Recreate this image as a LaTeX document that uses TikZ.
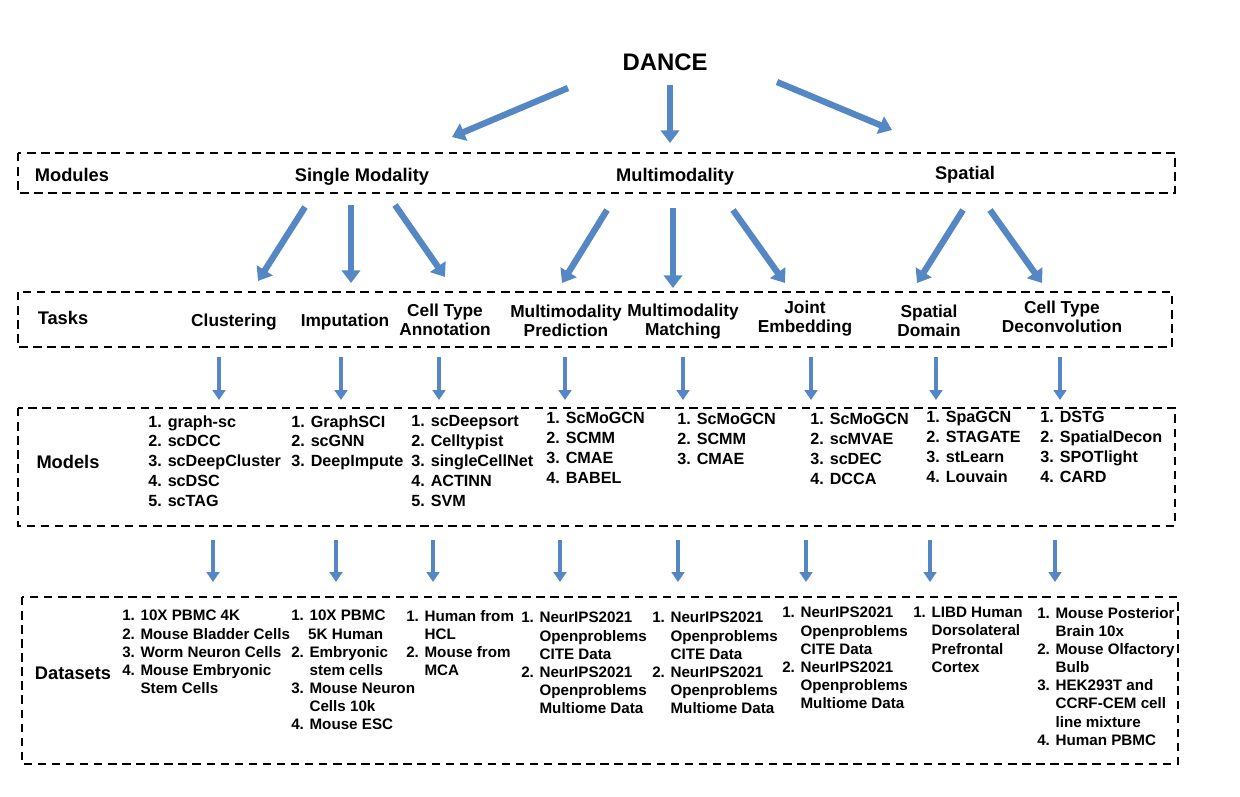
\documentclass[tikz,border=0pt]{standalone}
\usepackage{fontspec}
\setmainfont{Liberation Sans}
\usetikzlibrary{positioning, arrows.meta}
\definecolor{arrblue}{RGB}{84,135,195}
\tikzset{
  frame/.style={draw, dashed, line width=1.2pt, dash pattern=on 6pt off 4pt},
  head/.style={font=\bfseries\fontsize{13}{15}\selectfont, align=center},
  task/.style={font=\bfseries\fontsize{12.3}{13.5}\selectfont, align=center},
  mlist/.style={font=\bfseries\fontsize{11.5}{14.2}\selectfont, align=left, anchor=north west, inner sep=0},
  dlist/.style={font=\bfseries\fontsize{10.8}{12.9}\selectfont, align=left, anchor=north west, inner sep=0},
  fat/.style={-{Triangle[width=13pt,length=9pt]}, line width=4.5pt, draw=arrblue},
  thin/.style={-{Triangle[width=9pt,length=7pt]}, line width=3pt, draw=arrblue}
}
\begin{document}
\begin{tikzpicture}[x=0.025cm,y=-0.025cm]
\useasboundingbox (0,0) rectangle (1240,796);

% boxes
\draw[frame] (18,153) rectangle (1175,193);
\draw[frame] (18,292) rectangle (1172,347);
\draw[frame] (18,408) rectangle (1175,526);
\draw[frame] (22,597) rectangle (1178,764);

\node[head, font=\bfseries\fontsize{17}{19}\selectfont] (dance) at (665,62) {DANCE};

% modules
\node[head] (modules) at (72,175) {Modules};
\node[head] (single) at (362,177) {Single Modality};
\node[head] (multi) at (675,177) {Multimodality};
\node[head] (spatial) at (965,175) {Spatial};

% tasks
\node[head] (tasks) at (63,318) {Tasks};
\node[task] (clu) at (234,322) {Clustering};
\node[task] (imp) at (345,322) {Imputation};
\node[task] (cta) at (445,320) {Cell Type\\Annotation};
\node[task] (mpr) at (566,321) {Multimodality\\Prediction};
\node[task] (mma) at (683,322) {Multimodality\\Matching};
\node[task] (joi) at (805,319) {Joint\\Embedding};
\node[task] (spd) at (929,321) {Spatial\\Domain};
\node[task] (ctd) at (1062,317) {Cell Type\\Deconvolution};

% models
\node[head] (models) at (68,462) {Models};
\node[mlist] (m1) at (148,415) {1. graph-sc\\2. scDCC\\3. scDeepCluster\\4. scDSC\\5. scTAG};
\node[mlist] (m2) at (291,415) {1. GraphSCI\\2. scGNN\\3. DeepImpute};
\node[mlist] (m3) at (411,415) {1. scDeepsort\\2. Celltypist\\3. singleCellNet\\4. ACTINN\\5. SVM};
\node[mlist] (m4) at (546,412) {1. ScMoGCN\\2. SCMM\\3. CMAE\\4. BABEL};
\node[mlist] (m5) at (677,413) {1. ScMoGCN\\2. SCMM\\3. CMAE};
\node[mlist] (m6) at (810,413) {1. ScMoGCN\\2. scMVAE\\3. scDEC\\4. DCCA};
\node[mlist] (m7) at (926,411) {1. SpaGCN\\2. STAGATE\\3. stLearn\\4. Louvain};
\node[mlist] (m8) at (1040,411) {1. DSTG\\2. SpatialDecon\\3. SPOTlight\\4. CARD};

% datasets
\node[head] (datasets) at (73,673) {Datasets};
\node[dlist] (d1) at (122,610) {1. 10X PBMC 4K\\2. Mouse Bladder Cells\\3. Worm Neuron Cells\\4. Mouse Embryonic\\\phantom{4. }Stem Cells};
\node[dlist] (d2) at (291,610) {1. 10X PBMC\\\phantom{1.} 5K Human\\2. Embryonic\\\phantom{2. }stem cells\\3. Mouse Neuron\\\phantom{3. }Cells 10k\\4. Mouse ESC};
\node[dlist] (d3) at (406,610) {1. Human from\\\phantom{1. }HCL\\2. Mouse from\\\phantom{2. }MCA};
\node[dlist] (d4) at (521,612) {1. NeurIPS2021\\\phantom{1. }Openproblems\\\phantom{1. }CITE Data\\2. NeurIPS2021\\\phantom{2. }Openproblems\\\phantom{2. }Multiome Data};
\node[dlist] (d5) at (652,612) {1. NeurIPS2021\\\phantom{1. }Openproblems\\\phantom{1. }CITE Data\\2. NeurIPS2021\\\phantom{2. }Openproblems\\\phantom{2. }Multiome Data};
\node[dlist] (d6) at (782,607) {1. NeurIPS2021\\\phantom{1. }Openproblems\\\phantom{1. }CITE Data\\2. NeurIPS2021\\\phantom{2. }Openproblems\\\phantom{2. }Multiome Data};
\node[dlist] (d7) at (913,607) {1. LIBD Human\\\phantom{1. }Dorsolateral\\\phantom{1. }Prefrontal\\\phantom{1. }Cortex};
\node[dlist] (d8) at (1037,607) {1. Mouse Posterior\\\phantom{1. }Brain 10x\\2. Mouse Olfactory\\\phantom{2. }Bulb\\3. HEK293T and\\\phantom{3. }CCRF-CEM cell\\\phantom{3. }line mixture\\4. Human PBMC};

% big arrows
\coordinate (a1) at (568,88);  \coordinate (b1) at (452,137);
\coordinate (a2) at (670,85);  \coordinate (b2) at (670,143);
\coordinate (a3) at (777,82);  \coordinate (b3) at (892,130);
\foreach \i in {1,2,3} \draw[fat] (a\i) -- (b\i);

\coordinate (s1) at (305,207); \coordinate (t1) at (258,281);
\coordinate (s2) at (351,205); \coordinate (t2) at (351,283);
\coordinate (s3) at (395,205); \coordinate (t3) at (445,277);
\coordinate (s4) at (607,210); \coordinate (t4) at (562,283);
\coordinate (s5) at (673,208); \coordinate (t5) at (673,288);
\coordinate (s6) at (733,210); \coordinate (t6) at (785,283);
\coordinate (s7) at (963,210); \coordinate (t7) at (917,283);
\coordinate (s8) at (990,210); \coordinate (t8) at (1042,283);
\foreach \i in {1,...,8} \draw[fat] (s\i) -- (t\i);

% small arrows
\foreach \x in {219,341,439,565,683,811,936,1060}
  \draw[thin] (\x,357) -- (\x,400);
\foreach \x in {213,336,433,560,678,806,930,1055}
  \draw[thin] (\x,540) -- (\x,582);

\end{tikzpicture}
\end{document}
